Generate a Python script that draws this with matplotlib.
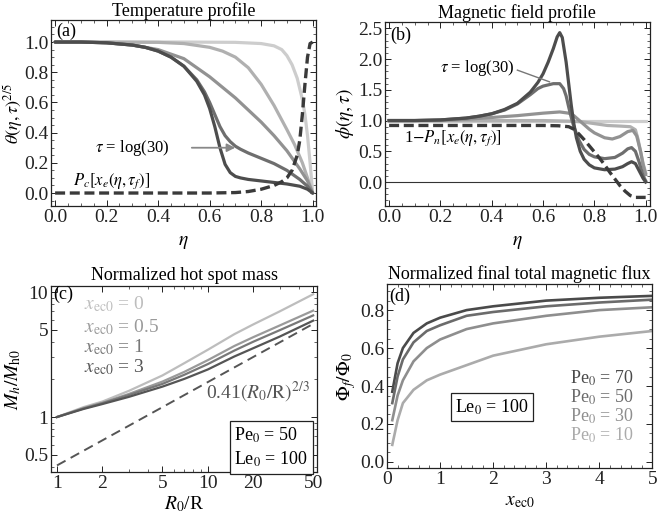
import numpy as np
import matplotlib
matplotlib.use("Agg")
import matplotlib.pyplot as plt
from matplotlib.ticker import MultipleLocator, FixedLocator, FixedFormatter, NullFormatter

plt.rcParams['font.family'] = 'serif'
plt.rcParams['font.serif'] = ['Liberation Serif']
plt.rcParams['mathtext.fontset'] = 'stix'

# ---------------- data ----------------
# (a) temperature profile
a_x1 = [0, 0.1, 0.2, 0.3, 0.35, 0.4, 0.45, 0.5, 0.55, 0.58, 0.6, 0.62, 0.64, 0.66, 0.68, 0.7, 0.72, 0.75, 0.8, 0.85, 0.9, 0.95, 0.98, 1.0]
a_y1 = [1.0, 1.0, 0.995, 0.98, 0.965, 0.94, 0.9, 0.84, 0.74, 0.65, 0.56, 0.44, 0.3, 0.19, 0.135, 0.11, 0.1, 0.09, 0.08, 0.07, 0.06, 0.045, 0.025, 0.0]
a_x2 = [0, 0.1, 0.2, 0.3, 0.35, 0.4, 0.45, 0.5, 0.55, 0.58, 0.6, 0.62, 0.64, 0.66, 0.68, 0.7, 0.72, 0.75, 0.8, 0.85, 0.9, 0.95, 0.98, 1.0]
a_y2 = [1.0, 1.0, 0.995, 0.98, 0.965, 0.94, 0.9, 0.84, 0.75, 0.67, 0.6, 0.52, 0.44, 0.38, 0.34, 0.31, 0.29, 0.265, 0.23, 0.195, 0.15, 0.09, 0.045, 0.0]
a_x3 = [0, 0.1, 0.2, 0.3, 0.4, 0.5, 0.6, 0.7, 0.8, 0.85, 0.9, 0.95, 0.98, 1.0]
a_y3 = [1.0, 1.0, 0.995, 0.98, 0.95, 0.89, 0.77, 0.63, 0.47, 0.38, 0.28, 0.16, 0.08, 0.0]
a_x4 = [0, 0.2, 0.4, 0.5, 0.6, 0.65, 0.7, 0.75, 0.8, 0.85, 0.9, 0.93, 0.96, 0.98, 1.0]
a_y4 = [1.0, 1.0, 0.998, 0.99, 0.965, 0.94, 0.9, 0.83, 0.72, 0.58, 0.42, 0.32, 0.2, 0.1, 0.0]
a_x5 = [0, 0.5, 0.7, 0.8, 0.85, 0.88, 0.9, 0.92, 0.94, 0.96, 0.97, 0.98, 0.99, 1.0]
a_y5 = [1.0, 1.0, 0.998, 0.99, 0.975, 0.95, 0.91, 0.85, 0.76, 0.62, 0.52, 0.38, 0.2, 0.0]
a_xd = [0, 0.6, 0.7, 0.75, 0.8, 0.85, 0.88, 0.9, 0.92, 0.94, 0.95, 0.96, 0.97, 0.98, 0.99, 1.0]
a_yd = [0, 0, 0.003, 0.01, 0.025, 0.05, 0.075, 0.1, 0.15, 0.25, 0.35, 0.52, 0.72, 0.9, 0.99, 1.0]

# (b) magnetic field profile
b_x1 = [0, 0.1, 0.2, 0.3, 0.35, 0.4, 0.45, 0.5, 0.55, 0.58, 0.6, 0.62, 0.64, 0.655, 0.665, 0.675, 0.69, 0.7, 0.71, 0.72, 0.73, 0.745, 0.76, 0.78, 0.8, 0.84, 0.88, 0.91, 0.93, 0.945, 0.96, 0.975, 0.99, 1.0]
b_y1 = [1.0, 1.0, 1.01, 1.04, 1.07, 1.11, 1.18, 1.28, 1.46, 1.62, 1.76, 1.95, 2.17, 2.36, 2.43, 2.35, 1.95, 1.6, 1.25, 0.95, 0.72, 0.5, 0.37, 0.28, 0.23, 0.2, 0.21, 0.25, 0.3, 0.33, 0.3, 0.18, 0.06, 0.0]
b_x2 = [0, 0.1, 0.2, 0.3, 0.35, 0.4, 0.45, 0.5, 0.55, 0.58, 0.6, 0.62, 0.64, 0.665, 0.68, 0.69, 0.7, 0.71, 0.72, 0.74, 0.76, 0.78, 0.8, 0.84, 0.88, 0.91, 0.93, 0.945, 0.96, 0.975, 0.99, 1.0]
b_y2 = [1.0, 1.0, 1.01, 1.04, 1.07, 1.11, 1.17, 1.27, 1.42, 1.52, 1.56, 1.58, 1.6, 1.6, 1.52, 1.4, 1.22, 1.05, 0.9, 0.68, 0.53, 0.45, 0.41, 0.38, 0.4, 0.47, 0.54, 0.56, 0.5, 0.32, 0.1, 0.02]
b_x3 = [0, 0.2, 0.3, 0.4, 0.5, 0.6, 0.665, 0.7, 0.72, 0.75, 0.78, 0.8, 0.84, 0.87, 0.9, 0.93, 0.95, 0.965, 0.98, 0.99, 1.0]
b_y3 = [1.0, 1.0, 1.02, 1.05, 1.08, 1.12, 1.14, 1.12, 1.08, 0.97, 0.86, 0.8, 0.72, 0.7, 0.74, 0.82, 0.84, 0.75, 0.5, 0.28, 0.12]
b_x4 = [0, 0.5, 0.6, 0.7, 0.75, 0.8, 0.85, 0.9, 0.94, 0.96, 0.97, 0.98, 0.99, 1.0]
b_y4 = [1.0, 1.0, 1.0, 0.99, 0.98, 0.95, 0.92, 0.91, 0.9, 0.85, 0.7, 0.5, 0.3, 0.15]
b_x5 = [0, 1.0]
b_y5 = [1.0, 1.0]
b_xd = [0, 0.6, 0.66, 0.7, 0.72, 0.74, 0.76, 0.78, 0.8, 0.82, 0.84, 0.86, 0.88, 0.9, 0.92, 0.94, 0.96, 1.0]
b_yd = [0.92, 0.92, 0.915, 0.9, 0.86, 0.78, 0.69, 0.59, 0.49, 0.39, 0.28, 0.16, 0.05, -0.06, -0.15, -0.22, -0.25, -0.25]

# (c) normalized hot spot mass
c_x = [1, 1.5, 2, 3, 5, 7, 10, 15, 20, 30, 50]
c_xec0_0 = [1, 1.2, 1.33, 1.62, 2.15, 2.7, 3.45, 4.6, 5.5, 7.0, 9.6]
c_xec0_05 = [1, 1.18, 1.3, 1.53, 1.92, 2.3, 2.85, 3.7, 4.35, 5.4, 7.1]
c_xec0_1 = [1, 1.17, 1.29, 1.5, 1.84, 2.18, 2.65, 3.4, 4.0, 4.95, 6.5]
c_xec0_3 = [1, 1.16, 1.27, 1.45, 1.75, 2.02, 2.4, 3.05, 3.55, 4.4, 5.9]
c_fit_x = [1, 50]
c_fit_y = [0.41, 5.56]
c_labels = ["0", "0.5", "1", "3"]

# (d) normalized final total magnetic flux
d_x = [0.1, 0.2, 0.3, 0.5, 0.75, 1.0, 1.5, 2.0, 3.0, 4.0, 5.0]
d_pe70 = [0.37, 0.52, 0.6, 0.68, 0.73, 0.76, 0.8, 0.82, 0.85, 0.865, 0.875]
d_pe50 = [0.31, 0.45, 0.54, 0.63, 0.69, 0.72, 0.77, 0.79, 0.82, 0.84, 0.855]
d_pe30 = [0.22, 0.35, 0.43, 0.53, 0.6, 0.645, 0.7, 0.73, 0.77, 0.8, 0.815]
d_pe10 = [0.09, 0.22, 0.31, 0.38, 0.43, 0.46, 0.51, 0.56, 0.62, 0.66, 0.69]
d_labels = ["70", "50", "30", "10"]

# ---------------- style ----------------
C = ['#4d4d4d', '#6e6e6e', '#929292', '#b0b0b0', '#cdcdcd']
DASH = '#3a3a3a'
TICKFS = 14
LABFS = 14

fig = plt.figure(figsize=(6.57, 5.21), dpi=100)

def frame(ax):
    for s in ax.spines.values():
        s.set_linewidth(0.9)
        s.set_color('#222222')
    ax.tick_params(which='both', direction='in', top=True, right=True, labelsize=TICKFS, colors='#222222', pad=2)
    ax.tick_params(which='major', length=4.5, width=0.7)
    ax.tick_params(which='minor', length=2.5, width=0.5)

# (a)
ax = fig.add_axes([0.0776, 0.6046, 0.403, 0.357])
frame(ax)
ax.tick_params(axis='y', pad=1.5)
lw = 2.3
ax.plot(a_x5, a_y5, color=C[4], lw=lw, solid_capstyle='round')
ax.plot(a_x4, a_y4, color=C[3], lw=lw, solid_capstyle='round')
ax.plot(a_x3, a_y3, color=C[2], lw=lw, solid_capstyle='round')
ax.plot(a_x2, a_y2, color=C[1], lw=lw, solid_capstyle='round')
ax.plot(a_x1, a_y1, color=C[0], lw=lw, solid_capstyle='round')
ax.plot(a_xd, a_yd, color=DASH, lw=2.4, dashes=(3.0, 1.4))
ax.set_xlim(-0.016, 1.012)
ax.set_ylim(-0.086, 1.146)
ax.xaxis.set_major_locator(MultipleLocator(0.2))
ax.xaxis.set_minor_locator(MultipleLocator(0.05))
ax.yaxis.set_major_locator(MultipleLocator(0.2))
ax.yaxis.set_minor_locator(MultipleLocator(0.05))
ax.xaxis.set_major_formatter(plt.FuncFormatter(lambda v, p: f"{v:.1f}"))
ax.yaxis.set_major_formatter(plt.FuncFormatter(lambda v, p: f"{v:.1f}"))
ax.set_title("Temperature profile", fontsize=13, pad=2)
ax.set_xlabel(r"$\eta$", fontsize=LABFS, labelpad=6)
ax.set_ylabel(r"$\theta(\eta,\tau)^{2/5}$", fontsize=13)
ax.yaxis.set_label_coords(-0.1, 0.5)
ax.text(0.005, 1.07, "(a)", fontsize=13, va='center', ha='left')
ax.text(0.3, 0.3, r"$\tau$ = log(30)", fontsize=12, va='center', ha='center')
ax.annotate("", xy=(0.71, 0.3), xytext=(0.52, 0.3),
            arrowprops=dict(arrowstyle='-|>', color='#888888', lw=1.3, mutation_scale=12))
ax.text(0.22, 0.08, r"$P_c[x_e(\eta,\tau_f)]$", fontsize=12, va='center', ha='center')

# (b)
ax = fig.add_axes([0.586, 0.6046, 0.403, 0.354])
frame(ax)
ax.axhline(0, color='#333333', lw=0.8)
ax.plot(b_x5, b_y5, color=C[4], lw=lw)
ax.plot(b_x4, b_y4, color=C[3], lw=lw)
ax.plot(b_x3, b_y3, color=C[2], lw=lw)
ax.plot(b_x2, b_y2, color=C[1], lw=lw)
ax.plot(b_x1, b_y1, color=C[0], lw=lw)
ax.plot(b_xd, b_yd, color=DASH, lw=2.4, dashes=(3.0, 1.4))
ax.set_xlim(-0.016, 1.016)
ax.set_ylim(-0.39, 2.61)
ax.xaxis.set_major_locator(MultipleLocator(0.2))
ax.xaxis.set_minor_locator(MultipleLocator(0.05))
ax.yaxis.set_major_locator(MultipleLocator(0.5))
ax.yaxis.set_minor_locator(MultipleLocator(0.1))
ax.xaxis.set_major_formatter(plt.FuncFormatter(lambda v, p: f"{v:.1f}"))
ax.yaxis.set_major_formatter(plt.FuncFormatter(lambda v, p: f"{v:.1f}"))
ax.set_title("Magnetic field profile", fontsize=13, pad=2)
ax.set_xlabel(r"$\eta$", fontsize=LABFS, labelpad=6)
ax.set_ylabel(r"$\phi(\eta,\tau)$", fontsize=LABFS, labelpad=1)
ax.text(0.005, 2.38, "(b)", fontsize=13, va='center', ha='left')
ax.text(0.345, 1.85, r"$\tau$ = log(30)", fontsize=12, va='center', ha='center')
ax.plot([0.5, 0.625], [1.82, 1.63], color='#777777', lw=1.0)
ax.text(0.25, 0.72, r"1$-P_n[x_e(\eta,\tau_f)]$", fontsize=12, va='center', ha='center')

# (c)
ax = fig.add_axes([0.0776, 0.094, 0.405, 0.357])
frame(ax)
ax.set_xscale('log')
ax.set_yscale('log')
cc = ['#bdbdbd', '#9a9a9a', '#787878', '#555555']
for ys, col in zip([c_xec0_0, c_xec0_05, c_xec0_1, c_xec0_3], cc):
    ax.plot(c_x, ys, color=col, lw=1.6)
ax.plot(c_fit_x, c_fit_y, color='#555555', lw=1.4, dashes=(5, 3))
ax.set_xlim(0.912, 53.1)
ax.set_ylim(0.363, 11.17)
ax.xaxis.set_major_locator(FixedLocator([1, 2, 5, 10, 20, 50]))
ax.xaxis.set_major_formatter(FixedFormatter(["1", "2", "5", "10", "20", "50"]))
ax.xaxis.set_minor_locator(FixedLocator([3, 4, 6, 7, 8, 9, 30, 40]))
ax.xaxis.set_minor_formatter(NullFormatter())
ax.yaxis.set_major_locator(FixedLocator([0.5, 1, 5, 10]))
ax.yaxis.set_major_formatter(FixedFormatter(["0.5", "1", "5", "10"]))
ax.yaxis.set_minor_locator(FixedLocator([0.4, 0.6, 0.7, 0.8, 0.9, 2, 3, 4, 6, 7, 8, 9]))
ax.yaxis.set_minor_formatter(NullFormatter())
ax.set_title("Normalized hot spot mass", fontsize=13, pad=4)
ax.set_xlabel(r"$R_0$/R", fontsize=LABFS, labelpad=2)
ax.set_ylabel(r"$M_h/M_{\mathrm{h0}}$", fontsize=LABFS, labelpad=1)
ax.text(0.94, 9.6, "(c)", fontsize=13, va='center', ha='left')
ys_lab = [8.0, 5.2, 3.65, 2.5]
for lab, yl, col in zip(c_labels, ys_lab, cc):
    ax.text(1.5, yl, r"$x_{\mathrm{ec0}}$ = " + lab, fontsize=14, color=col, va='center', ha='left')
ax.text(9.7, 1.58, r"0.41$(R_0/\mathrm{R})^{2/3}$", fontsize=14, color='#555555', va='center', ha='left')
ax.text(15.0, 0.57, "Pe$_0$ = 50\nLe$_0$ = 100", fontsize=13, va='center', ha='left', linespacing=1.3,
        bbox=dict(boxstyle='square,pad=0.25', fc='white', ec='#222222', lw=0.9))

# (d)
ax = fig.add_axes([0.589, 0.1017, 0.404, 0.353])
frame(ax)
dc = ['#4a4a4a', '#6b6b6b', '#8e8e8e', '#ababab']
for ys, col in zip([d_pe70, d_pe50, d_pe30, d_pe10], dc):
    ax.plot(d_x, ys, color=col, lw=1.9)
ax.set_xlim(0, 5)
ax.set_ylim(-0.032, 0.937)
ax.xaxis.set_major_locator(MultipleLocator(1))
ax.xaxis.set_minor_locator(MultipleLocator(0.2))
ax.yaxis.set_major_locator(MultipleLocator(0.2))
ax.yaxis.set_minor_locator(MultipleLocator(0.05))
ax.xaxis.set_major_formatter(plt.FuncFormatter(lambda v, p: f"{v:.0f}"))
ax.yaxis.set_major_formatter(plt.FuncFormatter(lambda v, p: f"{v:.1f}"))
ax.set_title("Normalized final total magnetic flux", fontsize=13, pad=4)
ax.set_xlabel(r"$x_{\mathrm{ec0}}$", fontsize=LABFS, labelpad=4)
ax.set_ylabel(r"$\Phi_f/\Phi_0$", fontsize=LABFS, labelpad=1)
ax.text(0.04, 0.87, "(d)", fontsize=13, va='center', ha='left')
for i, (lab, col) in enumerate(zip(d_labels, dc)):
    ax.text(3.45, 0.44 - 0.1 * i, "Pe$_0$ = " + lab, fontsize=13, color=col, va='center', ha='left')
ax.text(1.98, 0.29, "Le$_0$ = 100", fontsize=13, va='center', ha='center',
        bbox=dict(boxstyle='square,pad=0.25', fc='white', ec='#222222', lw=0.9))

fig.savefig("out.png", dpi=100)
